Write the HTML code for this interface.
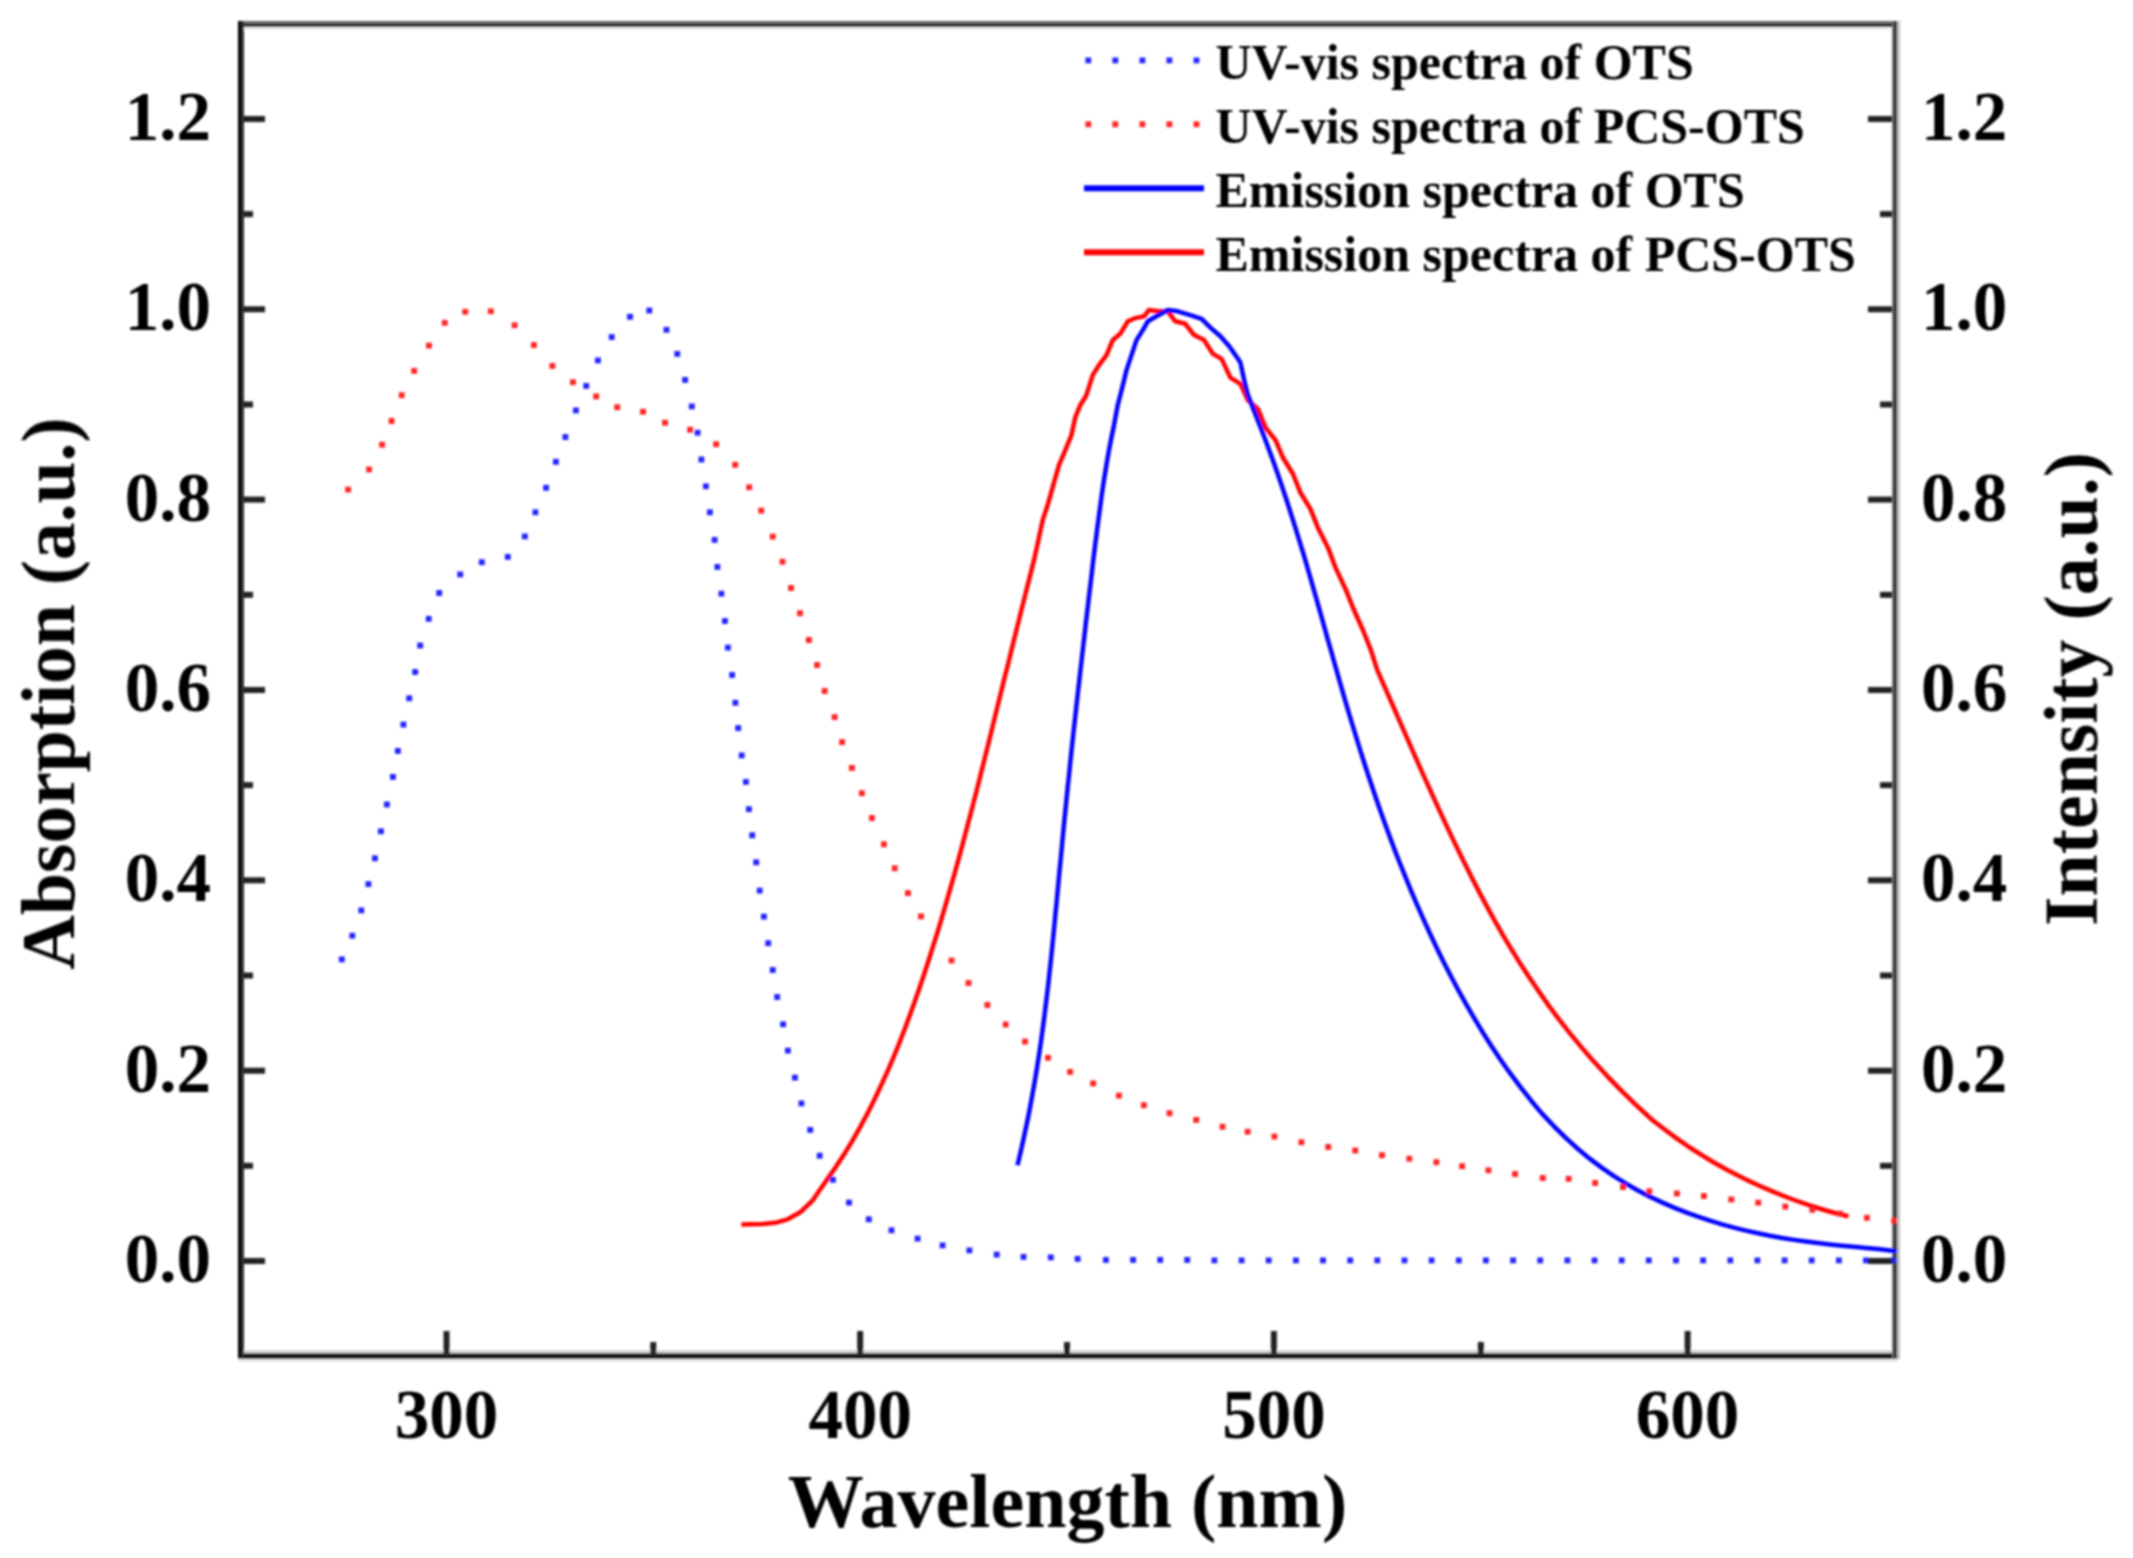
<!DOCTYPE html>
<html lang="en"><head><meta charset="utf-8"><title>UV-vis and emission spectra of OTS and PCS-OTS</title>
<style>html,body{margin:0;padding:0;background:#fff}body{width:2133px;height:1558px;overflow:hidden}svg{display:block}text{font-family:"Liberation Serif",serif;font-weight:bold;fill:#000}</style>
</head><body>
<svg width="2133" height="1558" viewBox="0 0 2133 1558">
<rect x="0" y="0" width="2133" height="1558" fill="#fff"/>
<defs><filter id="soft" x="0" y="0" width="2133" height="1558" filterUnits="userSpaceOnUse"><feGaussianBlur stdDeviation="0.8"/></filter></defs>
<g filter="url(#soft)">
<rect x="244" y="27" width="1648" height="3" fill="#ebebeb"/>
<rect x="244" y="1350" width="1648" height="3" fill="#d8d8d8"/>
<rect x="238" y="1359" width="1660" height="3" fill="#e8e8e8"/>
<rect x="1897" y="21" width="3" height="1338" fill="#bdbdbd"/>
<rect x="238" y="21" width="1659" height="3" fill="#6a6a6a"/>
<rect x="238" y="24" width="1659" height="3" fill="#000"/>
<rect x="238" y="1353" width="1659" height="3" fill="#2c2c2c"/>
<rect x="238" y="1356" width="1659" height="3" fill="#111"/>
<rect x="238" y="21" width="3" height="1338" fill="#000"/>
<rect x="241" y="21" width="3" height="1338" fill="#2e2e2e"/>
<rect x="1892" y="21" width="2" height="1338" fill="#6a6a6a"/>
<rect x="1894" y="21" width="3" height="1338" fill="#262626"/>
<path d="M741.3 1224.6 L762.6 1224.1 L775.1 1222.8 L787.6 1219.3 L800.2 1212.3 L812.7 1200.3 L824.8 1182.8 L834.6 1168.8 L843.8 1154.8 L852.3 1140.8 L860.3 1126.8 L867.8 1112.8 L874.8 1098.8 L881.4 1084.8 L887.7 1070.8 L893.7 1056.8 L899.4 1042.8 L904.8 1028.8 L910.0 1014.8 L915.0 1000.8 L919.9 986.8 L924.6 972.8 L929.1 958.8 L933.5 944.8 L937.9 930.8 L942.1 916.8 L946.2 902.8 L950.2 888.8 L954.2 874.8 L958.1 860.8 L961.9 846.8 L965.6 832.8 L969.3 818.8 L973.0 804.8 L976.6 790.8 L980.1 776.8 L983.6 762.8 L987.1 748.8 L990.6 734.8 L994.0 720.8 L997.4 706.8 L1000.9 692.8 L1004.3 678.8 L1007.9 664.8 L1009.1 660.0 L1013.8 640.5 L1021.3 610.5 L1027.6 585.5 L1033.9 560.4 L1038.9 537.9 L1042.6 520.4 L1047.6 505.3 L1053.9 482.8 L1058.9 465.3 L1065.2 450.3 L1071.4 435.2 L1075.2 417.7 L1080.2 405.2 L1086.4 395.2 L1092.7 375.1 L1099.0 365.1 L1106.5 355.1 L1112.7 340.1 L1120.2 333.8 L1127.8 321.3 L1135.3 318.1 L1144.0 316.3 L1149.0 310.0 L1157.8 311.3 L1167.8 311.3 L1175.3 321.3 L1185.3 323.8 L1194.1 335.1 L1204.1 340.1 L1212.9 353.9 L1221.6 358.9 L1230.4 377.6 L1240.4 383.9 L1247.9 400.2 L1257.9 408.9 L1265.5 427.7 L1275.5 440.2 L1283.0 457.8 L1293.0 474.0 L1300.5 492.8 L1310.5 509.1 L1318.0 527.9 L1328.1 547.9 L1335.6 567.9 L1345.6 589.2 L1353.1 608.0 L1363.1 630.5 L1370.6 649.3 L1377.3 670.1 L1383.4 684.1 L1389.6 698.1 L1395.7 712.1 L1401.8 726.1 L1408.0 740.1 L1414.1 754.1 L1420.3 768.1 L1426.6 782.1 L1432.9 796.1 L1439.3 810.1 L1445.8 824.1 L1452.4 838.1 L1459.1 852.1 L1466.0 866.1 L1473.0 880.1 L1480.3 894.1 L1487.8 908.1 L1495.5 922.1 L1503.5 936.1 L1511.9 950.1 L1520.6 964.1 L1529.7 978.1 L1539.2 992.1 L1549.1 1006.1 L1559.6 1020.1 L1570.6 1034.1 L1582.2 1048.1 L1594.3 1062.1 L1607.2 1076.1 L1620.8 1090.1 L1635.1 1104.1 L1650.2 1118.1 L1652.3 1120.0 L1665.0 1129.7 L1677.0 1138.6 L1689.0 1147.0 L1701.0 1154.7 L1713.0 1162.0 L1725.0 1168.7 L1737.0 1175.0 L1749.0 1180.9 L1761.0 1186.5 L1773.0 1191.6 L1785.0 1196.5 L1797.0 1201.0 L1809.0 1205.2 L1821.0 1209.0 L1833.0 1212.5 L1845.0 1215.5 L1848.5 1216.3" fill="none" stroke="#ff0000" stroke-width="4.5" stroke-linejoin="round"/>
<path d="M1017.5 1165.2 L1020.8 1151.2 L1023.9 1137.2 L1026.9 1123.2 L1029.7 1109.2 L1032.3 1095.2 L1034.8 1081.2 L1037.1 1067.2 L1039.3 1053.2 L1041.3 1039.2 L1043.2 1025.2 L1045.0 1011.2 L1046.7 997.2 L1048.4 983.2 L1049.9 969.2 L1051.4 955.2 L1052.8 941.2 L1054.2 927.2 L1055.5 913.2 L1056.9 899.2 L1058.2 885.2 L1059.5 871.2 L1060.9 857.2 L1062.2 843.2 L1063.5 829.2 L1064.9 815.2 L1066.3 801.2 L1067.7 787.2 L1069.2 773.2 L1070.6 759.2 L1072.1 745.2 L1073.6 731.2 L1075.2 717.2 L1076.7 703.2 L1078.3 689.2 L1079.9 675.2 L1081.5 661.2 L1083.1 647.2 L1084.7 633.2 L1086.3 619.2 L1088.0 605.2 L1089.6 591.2 L1091.3 577.2 L1092.9 563.2 L1094.6 549.2 L1096.4 535.2 L1098.2 521.2 L1100.1 507.2 L1102.0 493.2 L1104.1 479.2 L1106.4 465.2 L1108.8 451.2 L1111.5 437.2 L1114.0 425.2 L1117.7 405.2 L1122.2 387.7 L1126.5 370.1 L1131.5 355.1 L1136.5 340.1 L1142.8 330.1 L1147.8 321.3 L1156.5 316.3 L1167.8 310.0 L1177.8 311.3 L1190.3 315.1 L1201.6 318.8 L1210.4 327.6 L1220.4 336.3 L1229.2 346.3 L1235.4 355.1 L1240.4 362.6 L1244.2 380.2 L1247.9 395.2 L1255.8 415.2 L1261.3 429.2 L1266.6 443.2 L1271.8 457.2 L1276.8 471.2 L1281.6 485.2 L1286.3 499.2 L1290.8 513.2 L1295.2 527.2 L1299.5 541.2 L1303.8 555.2 L1307.9 569.2 L1311.9 583.2 L1315.9 597.2 L1319.9 611.2 L1323.8 625.2 L1327.7 639.2 L1331.7 653.2 L1335.6 667.2 L1339.6 681.2 L1343.6 695.2 L1347.7 709.2 L1351.9 723.2 L1356.2 737.2 L1360.5 751.2 L1365.0 765.2 L1369.6 779.2 L1374.3 793.2 L1379.1 807.2 L1384.1 821.2 L1389.2 835.2 L1394.4 849.2 L1399.9 863.2 L1405.5 877.2 L1411.2 891.2 L1417.2 905.2 L1423.4 919.2 L1429.8 933.2 L1436.4 947.2 L1443.2 961.2 L1450.4 975.2 L1457.8 989.2 L1465.5 1003.2 L1473.6 1017.2 L1482.0 1031.2 L1490.9 1045.2 L1500.2 1059.2 L1510.1 1073.2 L1520.5 1087.2 L1531.6 1101.2 L1541.8 1113.4 L1554.0 1126.3 L1566.0 1138.2 L1578.0 1149.0 L1590.0 1158.9 L1602.0 1167.9 L1614.0 1176.1 L1626.0 1183.6 L1638.0 1190.5 L1650.0 1196.7 L1662.0 1202.4 L1674.0 1207.6 L1686.0 1212.4 L1698.0 1216.7 L1710.0 1220.7 L1722.0 1224.3 L1734.0 1227.6 L1746.0 1230.6 L1758.0 1233.3 L1770.0 1235.8 L1782.0 1238.0 L1794.0 1239.9 L1806.0 1241.6 L1818.0 1243.1 L1830.0 1244.5 L1842.0 1245.7 L1854.0 1246.8 L1866.0 1247.9 L1878.0 1249.0 L1890.0 1250.4 L1897.2 1251.3" fill="none" stroke="#0000ff" stroke-width="4.5" stroke-linejoin="round"/>
<g fill="#ff2020">
<rect x="345.2" y="486.7" width="5.8" height="5.8"/>
<rect x="366.2" y="466.6" width="5.8" height="5.8"/>
<rect x="379.2" y="441.8" width="5.8" height="5.8"/>
<rect x="388.7" y="418.1" width="5.8" height="5.8"/>
<rect x="398.8" y="392.3" width="5.8" height="5.8"/>
<rect x="411.3" y="368.0" width="5.8" height="5.8"/>
<rect x="426.0" y="342.7" width="5.8" height="5.8"/>
<rect x="441.8" y="319.9" width="5.8" height="5.8"/>
<rect x="462.3" y="308.9" width="5.8" height="5.8"/>
<rect x="487.9" y="308.4" width="5.8" height="5.8"/>
<rect x="511.7" y="322.4" width="5.8" height="5.8"/>
<rect x="531.0" y="342.2" width="5.8" height="5.8"/>
<rect x="549.5" y="363.0" width="5.8" height="5.8"/>
<rect x="570.0" y="379.3" width="5.8" height="5.8"/>
<rect x="593.3" y="393.5" width="5.8" height="5.8"/>
<rect x="614.3" y="404.3" width="5.8" height="5.8"/>
<rect x="640.1" y="408.8" width="5.8" height="5.8"/>
<rect x="662.1" y="419.8" width="5.8" height="5.8"/>
<rect x="687.2" y="426.8" width="5.8" height="5.8"/>
<rect x="713.2" y="441.3" width="5.8" height="5.8"/>
<rect x="732.3" y="461.9" width="5.8" height="5.8"/>
<rect x="746.3" y="484.4" width="5.8" height="5.8"/>
<rect x="758.3" y="507.7" width="5.8" height="5.8"/>
<rect x="769.8" y="533.7" width="5.8" height="5.8"/>
<rect x="779.6" y="558.8" width="5.8" height="5.8"/>
<rect x="788.1" y="585.1" width="5.8" height="5.8"/>
<rect x="797.1" y="610.3" width="5.8" height="5.8"/>
<rect x="805.9" y="637.1" width="5.8" height="5.8"/>
<rect x="814.2" y="662.1" width="5.8" height="5.8"/>
<rect x="821.7" y="688.1" width="5.8" height="5.8"/>
<rect x="831.7" y="714.2" width="5.8" height="5.8"/>
<rect x="839.2" y="739.2" width="5.8" height="5.8"/>
<rect x="849.0" y="765.0" width="5.8" height="5.8"/>
<rect x="859.0" y="790.3" width="5.8" height="5.8"/>
<rect x="869.0" y="815.1" width="5.8" height="5.8"/>
<rect x="881.0" y="841.4" width="5.8" height="5.8"/>
<rect x="891.8" y="865.4" width="5.8" height="5.8"/>
<rect x="905.0" y="890.2" width="5.8" height="5.8"/>
<rect x="918.1" y="913.5" width="5.8" height="5.8"/>
<rect x="948.6" y="957.6" width="5.8" height="5.8"/>
<rect x="965.6" y="980.1" width="5.8" height="5.8"/>
<rect x="984.5" y="1002.1" width="5.8" height="5.8"/>
<rect x="1002.8" y="1021.6" width="5.8" height="5.8"/>
<rect x="1022.1" y="1038.7" width="5.8" height="5.8"/>
<rect x="1045.1" y="1054.9" width="5.8" height="5.8"/>
<rect x="1067.2" y="1069.0" width="5.8" height="5.8"/>
<rect x="1090.2" y="1080.5" width="5.8" height="5.8"/>
<rect x="1116.0" y="1092.7" width="5.8" height="5.8"/>
<rect x="1141.0" y="1102.3" width="5.8" height="5.8"/>
<rect x="1166.6" y="1110.3" width="5.8" height="5.8"/>
<rect x="1193.3" y="1117.0" width="5.8" height="5.8"/>
<rect x="1219.6" y="1123.8" width="5.8" height="5.8"/>
<rect x="1244.7" y="1128.8" width="5.8" height="5.8"/>
<rect x="1271.5" y="1133.6" width="5.8" height="5.8"/>
<rect x="1298.5" y="1139.3" width="5.8" height="5.8"/>
<rect x="1325.3" y="1144.1" width="5.8" height="5.8"/>
<rect x="1352.3" y="1147.6" width="5.8" height="5.8"/>
<rect x="1379.1" y="1152.3" width="5.8" height="5.8"/>
<rect x="1406.4" y="1155.8" width="5.8" height="5.8"/>
<rect x="1433.5" y="1159.3" width="5.8" height="5.8"/>
<rect x="1459.2" y="1163.3" width="5.8" height="5.8"/>
<rect x="1485.5" y="1167.4" width="5.8" height="5.8"/>
<rect x="1512.1" y="1171.1" width="5.8" height="5.8"/>
<rect x="1539.9" y="1175.1" width="5.8" height="5.8"/>
<rect x="1565.7" y="1175.9" width="5.8" height="5.8"/>
<rect x="1592.2" y="1180.1" width="5.8" height="5.8"/>
<rect x="1620.1" y="1184.1" width="5.8" height="5.8"/>
<rect x="1646.4" y="1188.4" width="5.8" height="5.8"/>
<rect x="1674.0" y="1190.6" width="5.8" height="5.8"/>
<rect x="1701.0" y="1193.1" width="5.8" height="5.8"/>
<rect x="1728.3" y="1196.6" width="5.8" height="5.8"/>
<rect x="1755.3" y="1199.7" width="5.8" height="5.8"/>
<rect x="1782.4" y="1203.7" width="5.8" height="5.8"/>
<rect x="1809.4" y="1206.9" width="5.8" height="5.8"/>
<rect x="1837.0" y="1210.7" width="5.8" height="5.8"/>
<rect x="1864.0" y="1214.9" width="5.8" height="5.8"/>
<rect x="1891.3" y="1217.9" width="5.8" height="5.8"/>
</g>
<g fill="#2020ff">
<rect x="338.9" y="956.5" width="5.8" height="5.8"/>
<rect x="349.4" y="932.8" width="5.8" height="5.8"/>
<rect x="358.4" y="907.5" width="5.8" height="5.8"/>
<rect x="365.5" y="881.2" width="5.8" height="5.8"/>
<rect x="372.0" y="855.4" width="5.8" height="5.8"/>
<rect x="378.0" y="828.4" width="5.8" height="5.8"/>
<rect x="384.0" y="801.6" width="5.8" height="5.8"/>
<rect x="390.0" y="774.0" width="5.8" height="5.8"/>
<rect x="395.0" y="748.0" width="5.8" height="5.8"/>
<rect x="400.5" y="721.7" width="5.8" height="5.8"/>
<rect x="406.3" y="695.4" width="5.8" height="5.8"/>
<rect x="412.3" y="669.1" width="5.8" height="5.8"/>
<rect x="417.3" y="642.6" width="5.8" height="5.8"/>
<rect x="425.8" y="615.9" width="5.8" height="5.8"/>
<rect x="436.3" y="590.1" width="5.8" height="5.8"/>
<rect x="457.3" y="571.5" width="5.8" height="5.8"/>
<rect x="478.9" y="559.3" width="5.8" height="5.8"/>
<rect x="504.9" y="554.0" width="5.8" height="5.8"/>
<rect x="521.9" y="533.5" width="5.8" height="5.8"/>
<rect x="532.5" y="509.4" width="5.8" height="5.8"/>
<rect x="543.2" y="484.9" width="5.8" height="5.8"/>
<rect x="553.0" y="458.9" width="5.8" height="5.8"/>
<rect x="562.5" y="434.1" width="5.8" height="5.8"/>
<rect x="573.0" y="407.5" width="5.8" height="5.8"/>
<rect x="583.3" y="383.0" width="5.8" height="5.8"/>
<rect x="595.0" y="357.5" width="5.8" height="5.8"/>
<rect x="608.8" y="334.2" width="5.8" height="5.8"/>
<rect x="627.1" y="313.9" width="5.8" height="5.8"/>
<rect x="646.4" y="307.6" width="5.8" height="5.8"/>
<rect x="663.6" y="326.9" width="5.8" height="5.8"/>
<rect x="674.4" y="351.0" width="5.8" height="5.8"/>
<rect x="682.2" y="377.0" width="5.8" height="5.8"/>
<rect x="688.9" y="403.5" width="5.8" height="5.8"/>
<rect x="694.7" y="429.8" width="5.8" height="5.8"/>
<rect x="698.5" y="456.6" width="5.8" height="5.8"/>
<rect x="703.0" y="483.4" width="5.8" height="5.8"/>
<rect x="707.0" y="509.4" width="5.8" height="5.8"/>
<rect x="711.7" y="537.0" width="5.8" height="5.8"/>
<rect x="714.5" y="564.0" width="5.8" height="5.8"/>
<rect x="718.5" y="590.8" width="5.8" height="5.8"/>
<rect x="722.0" y="618.1" width="5.8" height="5.8"/>
<rect x="725.0" y="644.7" width="5.8" height="5.8"/>
<rect x="729.2" y="672.1" width="5.8" height="5.8"/>
<rect x="732.5" y="699.9" width="5.8" height="5.8"/>
<rect x="735.3" y="725.2" width="5.8" height="5.8"/>
<rect x="738.8" y="752.5" width="5.8" height="5.8"/>
<rect x="743.0" y="779.0" width="5.8" height="5.8"/>
<rect x="746.0" y="806.3" width="5.8" height="5.8"/>
<rect x="749.3" y="832.4" width="5.8" height="5.8"/>
<rect x="753.3" y="859.4" width="5.8" height="5.8"/>
<rect x="756.8" y="887.7" width="5.8" height="5.8"/>
<rect x="761.0" y="913.7" width="5.8" height="5.8"/>
<rect x="765.3" y="940.3" width="5.8" height="5.8"/>
<rect x="769.8" y="967.1" width="5.8" height="5.8"/>
<rect x="774.3" y="994.1" width="5.8" height="5.8"/>
<rect x="780.2" y="1021.4" width="5.8" height="5.8"/>
<rect x="785.0" y="1047.7" width="5.8" height="5.8"/>
<rect x="792.0" y="1074.7" width="5.8" height="5.8"/>
<rect x="798.5" y="1100.5" width="5.8" height="5.8"/>
<rect x="807.3" y="1127.0" width="5.8" height="5.8"/>
<rect x="816.8" y="1152.8" width="5.8" height="5.8"/>
<rect x="830.0" y="1176.9" width="5.8" height="5.8"/>
<rect x="846.1" y="1199.7" width="5.8" height="5.8"/>
<rect x="865.9" y="1216.4" width="5.8" height="5.8"/>
<rect x="888.6" y="1227.4" width="5.8" height="5.8"/>
<rect x="914.7" y="1235.7" width="5.8" height="5.8"/>
<rect x="939.7" y="1242.5" width="5.8" height="5.8"/>
<rect x="966.5" y="1247.5" width="5.8" height="5.8"/>
<rect x="993.8" y="1251.7" width="5.8" height="5.8"/>
<rect x="1020.6" y="1254.0" width="5.8" height="5.8"/>
<rect x="1047.9" y="1254.5" width="5.8" height="5.8"/>
<rect x="1074.7" y="1256.0" width="5.8" height="5.8"/>
<rect x="1103.0" y="1257.0" width="5.8" height="5.8"/>
<rect x="1130.2" y="1257.0" width="5.8" height="5.8"/>
<rect x="1157.3" y="1257.0" width="5.8" height="5.8"/>
<rect x="1184.3" y="1257.0" width="5.8" height="5.8"/>
<rect x="1211.5" y="1257.5" width="5.8" height="5.8"/>
<rect x="1238.7" y="1257.5" width="5.8" height="5.8"/>
<rect x="1265.8" y="1257.5" width="5.8" height="5.8"/>
<rect x="1293.0" y="1257.5" width="5.8" height="5.8"/>
<rect x="1320.1" y="1257.5" width="5.8" height="5.8"/>
<rect x="1347.3" y="1257.5" width="5.8" height="5.8"/>
<rect x="1374.4" y="1257.5" width="5.8" height="5.8"/>
<rect x="1401.6" y="1257.5" width="5.8" height="5.8"/>
<rect x="1428.7" y="1257.5" width="5.8" height="5.8"/>
<rect x="1455.9" y="1257.5" width="5.8" height="5.8"/>
<rect x="1483.0" y="1257.5" width="5.8" height="5.8"/>
<rect x="1510.2" y="1257.5" width="5.8" height="5.8"/>
<rect x="1537.3" y="1257.5" width="5.8" height="5.8"/>
<rect x="1564.5" y="1257.5" width="5.8" height="5.8"/>
<rect x="1591.6" y="1257.5" width="5.8" height="5.8"/>
<rect x="1618.8" y="1257.5" width="5.8" height="5.8"/>
<rect x="1645.9" y="1257.5" width="5.8" height="5.8"/>
<rect x="1673.1" y="1257.5" width="5.8" height="5.8"/>
<rect x="1700.2" y="1257.5" width="5.8" height="5.8"/>
<rect x="1727.4" y="1257.5" width="5.8" height="5.8"/>
<rect x="1754.5" y="1257.5" width="5.8" height="5.8"/>
<rect x="1781.7" y="1257.5" width="5.8" height="5.8"/>
<rect x="1808.8" y="1257.5" width="5.8" height="5.8"/>
<rect x="1836.0" y="1257.5" width="5.8" height="5.8"/>
<rect x="1863.1" y="1257.5" width="5.8" height="5.8"/>
<rect x="1890.3" y="1257.5" width="5.8" height="5.8"/>
</g>
<g fill="#222">
<rect x="244" y="1258.0" width="21" height="6"/>
<rect x="1868" y="1258.0" width="24" height="6"/>
<rect x="244" y="1162.8" width="9" height="6"/>
<rect x="1880" y="1162.8" width="12" height="6"/>
<rect x="244" y="1067.7" width="21" height="6"/>
<rect x="1868" y="1067.7" width="24" height="6"/>
<rect x="244" y="972.5" width="9" height="6"/>
<rect x="1880" y="972.5" width="12" height="6"/>
<rect x="244" y="877.3" width="21" height="6"/>
<rect x="1868" y="877.3" width="24" height="6"/>
<rect x="244" y="782.1" width="9" height="6"/>
<rect x="1880" y="782.1" width="12" height="6"/>
<rect x="244" y="687.0" width="21" height="6"/>
<rect x="1868" y="687.0" width="24" height="6"/>
<rect x="244" y="591.8" width="9" height="6"/>
<rect x="1880" y="591.8" width="12" height="6"/>
<rect x="244" y="496.6" width="21" height="6"/>
<rect x="1868" y="496.6" width="24" height="6"/>
<rect x="244" y="401.5" width="9" height="6"/>
<rect x="1880" y="401.5" width="12" height="6"/>
<rect x="244" y="306.3" width="21" height="6"/>
<rect x="1868" y="306.3" width="24" height="6"/>
<rect x="244" y="211.1" width="9" height="6"/>
<rect x="1880" y="211.1" width="12" height="6"/>
<rect x="244" y="116.0" width="21" height="6"/>
<rect x="1868" y="116.0" width="24" height="6"/>
<rect x="443.5" y="1331" width="6" height="22"/>
<rect x="650.3" y="1342" width="6" height="11"/>
<rect x="857.2" y="1331" width="6" height="22"/>
<rect x="1064.0" y="1342" width="6" height="11"/>
<rect x="1270.9" y="1331" width="6" height="22"/>
<rect x="1477.8" y="1342" width="6" height="11"/>
<rect x="1684.6" y="1331" width="6" height="22"/>
</g>
<g font-size="69">
<text x="211" y="1282.0" text-anchor="end">0.0</text>
<text x="1921" y="1282.0">0.0</text>
<text x="211" y="1091.7" text-anchor="end">0.2</text>
<text x="1921" y="1091.7">0.2</text>
<text x="211" y="901.3" text-anchor="end">0.4</text>
<text x="1921" y="901.3">0.4</text>
<text x="211" y="711.0" text-anchor="end">0.6</text>
<text x="1921" y="711.0">0.6</text>
<text x="211" y="520.6" text-anchor="end">0.8</text>
<text x="1921" y="520.6">0.8</text>
<text x="211" y="330.3" text-anchor="end">1.0</text>
<text x="1921" y="330.3">1.0</text>
<text x="211" y="140.0" text-anchor="end">1.2</text>
<text x="1921" y="140.0">1.2</text>
<text x="446.5" y="1438" text-anchor="middle">300</text>
<text x="860.2" y="1438" text-anchor="middle">400</text>
<text x="1273.9" y="1438" text-anchor="middle">500</text>
<text x="1687.6" y="1438" text-anchor="middle">600</text>
</g>
<text x="1067.5" y="1527" font-size="76" text-anchor="middle">Wavelength (nm)</text>
<text transform="translate(74 693.5) rotate(-90)" font-size="75.6" text-anchor="middle">Absorption (a.u.)</text>
<text transform="translate(2096.7 689) rotate(-90)" font-size="75.8" text-anchor="middle">Intensity (a.u.)</text>
<g font-size="50">
<rect x="1085.4" y="57.5" width="5.8" height="5.8" fill="#2020ff"/>
<rect x="1112.4" y="57.5" width="5.8" height="5.8" fill="#2020ff"/>
<rect x="1139.5" y="57.5" width="5.8" height="5.8" fill="#2020ff"/>
<rect x="1166.5" y="57.5" width="5.8" height="5.8" fill="#2020ff"/>
<rect x="1193.6" y="57.5" width="5.8" height="5.8" fill="#2020ff"/>
<text x="1215.5" y="79">UV-vis spectra of OTS</text>
<rect x="1085.4" y="121.4" width="5.8" height="5.8" fill="#ff2020"/>
<rect x="1112.4" y="121.4" width="5.8" height="5.8" fill="#ff2020"/>
<rect x="1139.5" y="121.4" width="5.8" height="5.8" fill="#ff2020"/>
<rect x="1166.5" y="121.4" width="5.8" height="5.8" fill="#ff2020"/>
<rect x="1193.6" y="121.4" width="5.8" height="5.8" fill="#ff2020"/>
<text x="1215.5" y="143">UV-vis spectra of PCS-OTS</text>
<rect x="1084" y="185.3" width="120" height="6" fill="#0000ff"/>
<text x="1215.5" y="207">Emission spectra of OTS</text>
<rect x="1084" y="249.3" width="120" height="6" fill="#ff0000"/>
<text x="1215.5" y="271">Emission spectra of PCS-OTS</text>
</g>
</g>
</svg></body></html>
